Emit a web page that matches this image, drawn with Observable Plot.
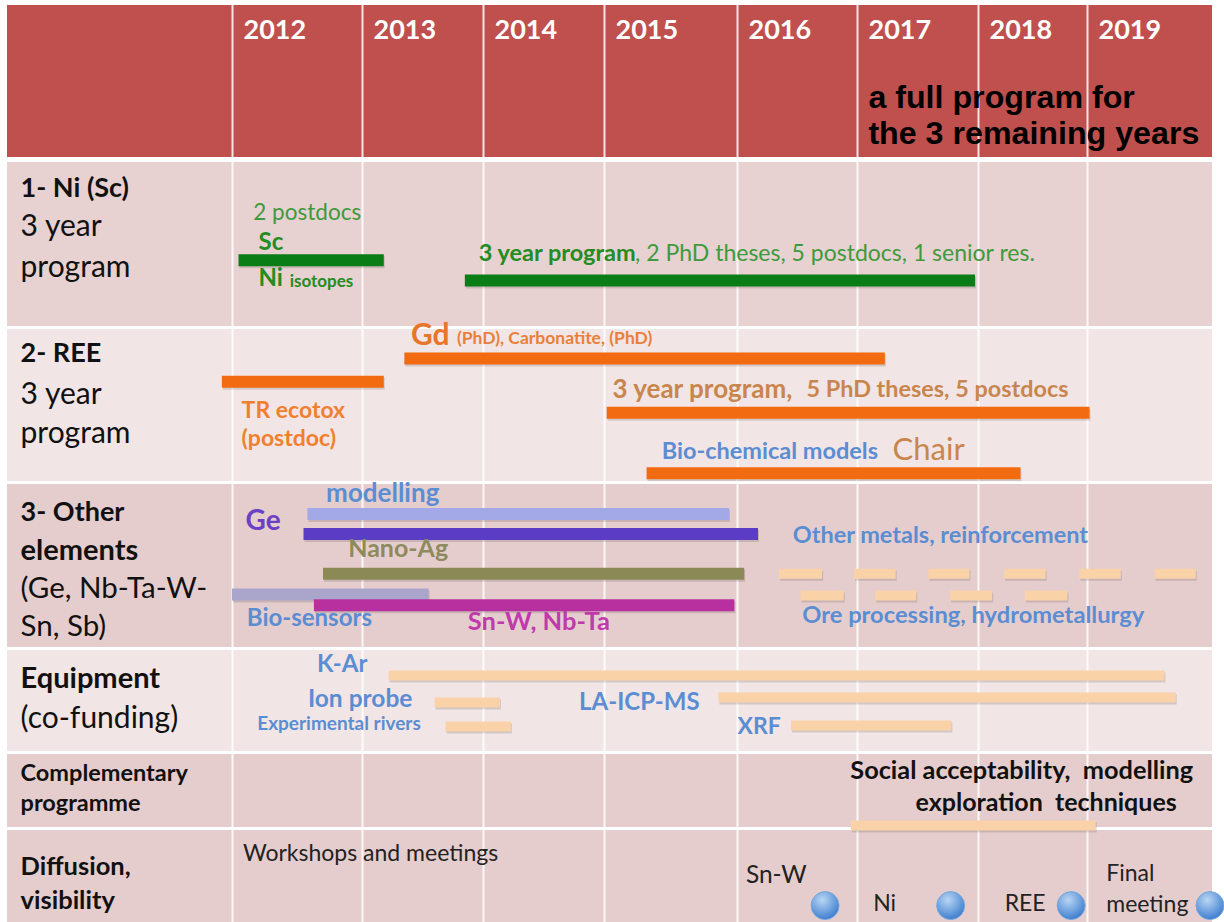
<!DOCTYPE html>
<html><head><meta charset="utf-8">
<script src="https://cdn.jsdelivr.net/npm/d3@7"></script>
<script src="https://cdn.jsdelivr.net/npm/@observablehq/plot@0.6"></script>
<style>body{margin:0;background:#fff}</style>
</head><body><div id="chart"></div>
<script>
// ---- data ----
const years = [2012, 2013, 2014, 2015, 2016, 2017, 2018, 2019];
const yearLabels = ["2012", "2013", "2014", "2015", "2016", "2017", "2018", "2019"];
const rowIds = [0, 1, 2, 3, 4, 5, 6];
const rowFills = ["#c0504d", "#e8d1d1", "#f2e5e5", "#e6cdcd", "#f2e5e5", "#e6cdcd", "#e6cdcd"];

const headerNote = [
  {x: 2017.09, y: 0.60, t: "a full program for"},
  {x: 2017.09, y: 0.83, t: "the 3 remaining years"}
];

const rowLabels = [
  {y: 1.17, t: "1- Ni (Sc)", w: "bold", s: 27},
  {y: 1.40, t: "3 year", w: "normal", s: 30},
  {y: 1.64, t: "program", w: "normal", s: 30},
  {y: 2.17, t: "2- REE", w: "bold", s: 27},
  {y: 2.43, t: "3 year", w: "normal", s: 30},
  {y: 2.68, t: "program", w: "normal", s: 30},
  {y: 3.18, t: "3- Other", w: "bold", s: 27},
  {y: 3.41, t: "elements", w: "bold", s: 29},
  {y: 3.64, t: "(Ge, Nb-Ta-W-", w: "normal", s: 29.5},
  {y: 3.87, t: "Sn, Sb)", w: "normal", s: 29.5},
  {y: 4.29, t: "Equipment", w: "bold", s: 29},
  {y: 4.67, t: "(co-funding)", w: "normal", s: 30},
  {y: 5.28, t: "Complementary", w: "bold", s: 23.5},
  {y: 5.67, t: "programme", w: "bold", s: 23.5},
  {y: 6.41, t: "Diffusion,", w: "bold", s: 25.5},
  {y: 6.77, t: "visibility", w: "bold", s: 25.5}
];

const notes = [
  {x: 2012.16, y: 1.315, t: "2 postdocs", c: "#3d9a3d", s: 22.5, w: "normal"},
  {x: 2012.2, y: 1.49, t: "Sc", c: "#238c23", s: 24, w: "bold"},
  {x: 2012.2, y: 1.71, t: "Ni", c: "#238c23", s: 24, w: "bold"},
  {x: 2012.44, y: 1.725, t: "isotopes", c: "#238c23", s: 17, w: "bold"},
  {x: 2013.96, y: 1.56, t: "3 year program", c: "#238c23", s: 23.5, w: "bold"},
  {x: 2015.23, y: 1.56, t: ", 2 PhD theses, 5 postdocs, 1 senior res.", c: "#3d9a3d", s: 23, w: "normal"},
  {x: 2013.40, y: 2.05, t: "Gd", c: "#e8762a", s: 30, w: "bold"},
  {x: 2013.78, y: 2.07, t: "(PhD), Carbonatite, (PhD)", c: "#e8803a", s: 17.5, w: "bold"},
  {x: 2012.07, y: 2.535, t: "TR ecotox", c: "#f0802e", s: 23, w: "bold"},
  {x: 2012.07, y: 2.72, t: "(postdoc)", c: "#f0802e", s: 23, w: "bold"},
  {x: 2015.06, y: 2.40, t: "3 year program,", c: "#c8864e", s: 26, w: "bold"},
  {x: 2016.575, y: 2.40, t: "5 PhD theses, 5 postdocs", c: "#c8864e", s: 23.4, w: "bold"},
  {x: 2015.43, y: 2.80, t: "Bio-chemical models", c: "#5b8dd3", s: 23.5, w: "bold"},
  {x: 2017.29, y: 2.79, t: "Chair", c: "#c8864e", s: 31, w: "normal"},
  {x: 2012.72, y: 3.066, t: "modelling", c: "#5b8dd3", s: 26, w: "bold"},
  {x: 2012.10, y: 3.23, t: "Ge", c: "#6a40c4", s: 28, w: "bold"},
  {x: 2012.89, y: 3.40, t: "Nano-Ag", c: "#8c8a5e", s: 25, w: "bold"},
  {x: 2012.11, y: 3.82, t: "Bio-sensors", c: "#5b8dd3", s: 24, w: "bold"},
  {x: 2013.87, y: 3.84, t: "Sn-W, Nb-Ta", c: "#c03aae", s: 25.5, w: "bold"},
  {x: 2016.46, y: 3.32, t: "Other metals, reinforcement", c: "#5b8dd3", s: 23.5, w: "bold"},
  {x: 2016.54, y: 3.80, t: "Ore processing, hydrometallurgy", c: "#5b8dd3", s: 23.7, w: "bold"},
  {x: 2012.65, y: 4.15, t: "K-Ar", c: "#5b8dd3", s: 24, w: "bold"},
  {x: 2012.58, y: 4.49, t: "Ion probe", c: "#5b8dd3", s: 24.5, w: "bold"},
  {x: 2012.19, y: 4.725, t: "Experimental rivers", c: "#5b8dd3", s: 19, w: "bold"},
  {x: 2014.79, y: 4.52, t: "LA-ICP-MS", c: "#5b8dd3", s: 24, w: "bold"},
  {x: 2016.0, y: 4.75, t: "XRF", c: "#5b8dd3", s: 23, w: "bold"},
  {x: 2016.94, y: 5.24, t: "Social acceptability,  modelling", c: "#111111", s: 25.3, w: "bold"},
  {x: 2017.48, y: 5.67, t: "exploration  techniques", c: "#111111", s: 25, w: "bold"},
  {x: 2012.08, y: 6.27, t: "Workshops and meetings", c: "#222222", s: 23, w: "normal"},
  {x: 2016.07, y: 6.50, t: "Sn-W", c: "#222222", s: 24.5, w: "normal"},
  {x: 2017.13, y: 6.80, t: "Ni", c: "#222222", s: 23, w: "normal"},
  {x: 2018.24, y: 6.80, t: "REE", c: "#222222", s: 23, w: "normal"},
  {x: 2019.15, y: 6.48, t: "Final", c: "#222222", s: 23, w: "normal"},
  {x: 2019.15, y: 6.81, t: "meeting", c: "#222222", s: 23, w: "normal"}
];

const bars = [
  {start: 2012.05, end: 2013.18, y: 1.60, c: "#0b7d16"},
  {start: 2013.85, end: 2017.975, y: 1.72, c: "#0b7d16"},
  {start: 2013.35, end: 2017.23, y: 2.20, c: "#f26b10"},
  {start: 2011.955, end: 2013.18, y: 2.35, c: "#f26b10"},
  {start: 2015.02, end: 2019.02, y: 2.55, c: "#f26b10"},
  {start: 2015.32, end: 2018.39, y: 2.94, c: "#f26b10"},
  {start: 2012.58, end: 2015.94, y: 3.19, c: "#a3a9e6"},
  {start: 2012.55, end: 2016.175, y: 3.31, c: "#5b3cc4"},
  {start: 2012.70, end: 2016.06, y: 3.55, c: "#8b8a57"},
  {start: 2012.0, end: 2013.55, y: 3.675, c: "#aaa5cb"},
  {start: 2012.63, end: 2015.98, y: 3.74, c: "#b8309f"}
];

const lightBars = [
  {start: 2016.35, end: 2016.71, y: 3.55}, {start: 2016.975, end: 2017.32, y: 3.55},
  {start: 2017.59, end: 2017.93, y: 3.55}, {start: 2018.24, end: 2018.62, y: 3.55},
  {start: 2018.93, end: 2019.27, y: 3.55}, {start: 2019.54, end: 2019.87, y: 3.55},
  {start: 2016.53, end: 2016.89, y: 3.68}, {start: 2017.15, end: 2017.49, y: 3.68},
  {start: 2017.77, end: 2018.13, y: 3.68}, {start: 2018.43, end: 2018.82, y: 3.68},
  {start: 2013.22, end: 2019.62, y: 4.26},
  {start: 2015.86, end: 2019.71, y: 4.47},
  {start: 2013.60, end: 2014.14, y: 4.52},
  {start: 2013.69, end: 2014.23, y: 4.75},
  {start: 2016.45, end: 2017.78, y: 4.74},
  {start: 2016.95, end: 2019.07, y: 5.96}
];

const meetings = [
  {x: 2016.73, y: 6.82}, {x: 2017.77, y: 6.82}, {x: 2018.85, y: 6.82}, {x: 2019.98, y: 6.82}
];

// ---- layout ----
const xDomain = [2011, 2012, 2013, 2014, 2015, 2016, 2017, 2018, 2019, 2020];
const xRange = [7, 232, 362, 483, 604, 737, 857, 978, 1087, 1212];
const yDomain = [0, 1, 2, 3, 4, 5, 6, 7];
const yRange = [5, 159, 327, 482, 648, 752, 828, 922];
const labelX = 2011.058;
const F = "Lato, 'Open Sans', sans-serif";

const textMarks = (data, weight) => Plot.text(data, {
  x: "x", y: "y", text: "t", textAnchor: "start", fill: "c", fontSize: "s",
  fontWeight: weight, fontFamily: F
});
const shadow = (data, w) => Plot.ruleY(data, {
  x1: "start", x2: "end", y: "y", dx: 1, dy: 2, stroke: "#000000", strokeOpacity: 0.13, strokeWidth: w
});

const chart = Plot.plot({
  width: 1224, height: 922,
  margin: 0,
  x: {type: "linear", domain: xDomain, range: xRange, axis: null},
  y: {type: "linear", domain: yDomain, range: yRange, axis: null},
  color: {type: "identity"},
  style: {background: "#ffffff"},
  marks: [
    Plot.rect(rowIds, {x1: 2011, x2: 2020, y1: d => d, y2: d => d + 1, fill: d => rowFills[d]}),
    Plot.ruleX(years, {y1: 0, y2: 7, stroke: "#ffffff", strokeWidth: 2, strokeOpacity: 0.85}),
    Plot.ruleY([1], {x1: 2011, x2: 2020, stroke: "#ffffff", strokeWidth: 5}),
    Plot.ruleY([2, 3, 4, 5, 6], {x1: 2011, x2: 2020, stroke: "#ffffff", strokeWidth: 3}),
    Plot.text(yearLabels, {x: d => +d, y: 0.16, text: d => d, dx: 11, textAnchor: "start", fill: "#ffffff", fontSize: 27, fontWeight: "bold", fontFamily: F}),
    Plot.text(headerNote, {x: "x", y: "y", text: "t", textAnchor: "start", fill: "#000000", fontSize: 32.2, fontWeight: "bold", fontFamily: "'Liberation Sans', Arial, sans-serif"}),
    Plot.text(rowLabels.filter(d => d.w === "bold"), {x: labelX, y: "y", text: "t", textAnchor: "start", fill: "#111111", fontSize: "s", fontWeight: "bold", fontFamily: F}),
    Plot.text(rowLabels.filter(d => d.w !== "bold"), {x: labelX, y: "y", text: "t", textAnchor: "start", fill: "#111111", fontSize: "s", fontWeight: "normal", fontFamily: F}),
    shadow(bars, 12),
    shadow(lightBars, 10),
    Plot.ruleY(bars, {x1: "start", x2: "end", y: "y", stroke: "c", strokeWidth: 12, strokeLinecap: "butt"}),
    Plot.ruleY(lightBars, {x1: "start", x2: "end", y: "y", stroke: "#fad2a8", strokeWidth: 10, strokeLinecap: "butt"}),
    textMarks(notes.filter(d => d.w === "bold"), "bold"),
    textMarks(notes.filter(d => d.w !== "bold"), "normal"),
    Plot.dot(meetings, {x: "x", y: "y", r: 14, fill: "url(#ballGrad)", stroke: "#7aa9dc", strokeWidth: 1})
  ]
});

// gradient for meeting balls
const defs = d3.select(chart).insert("defs", ":first-child");
const g = defs.append("radialGradient").attr("id", "ballGrad").attr("cx", "40%").attr("cy", "30%").attr("r", "70%");
g.append("stop").attr("offset", "0%").attr("stop-color", "#b9d6f4");
g.append("stop").attr("offset", "100%").attr("stop-color", "#3f7fcf");

document.getElementById("chart").appendChild(chart);
</script>
</body></html>
